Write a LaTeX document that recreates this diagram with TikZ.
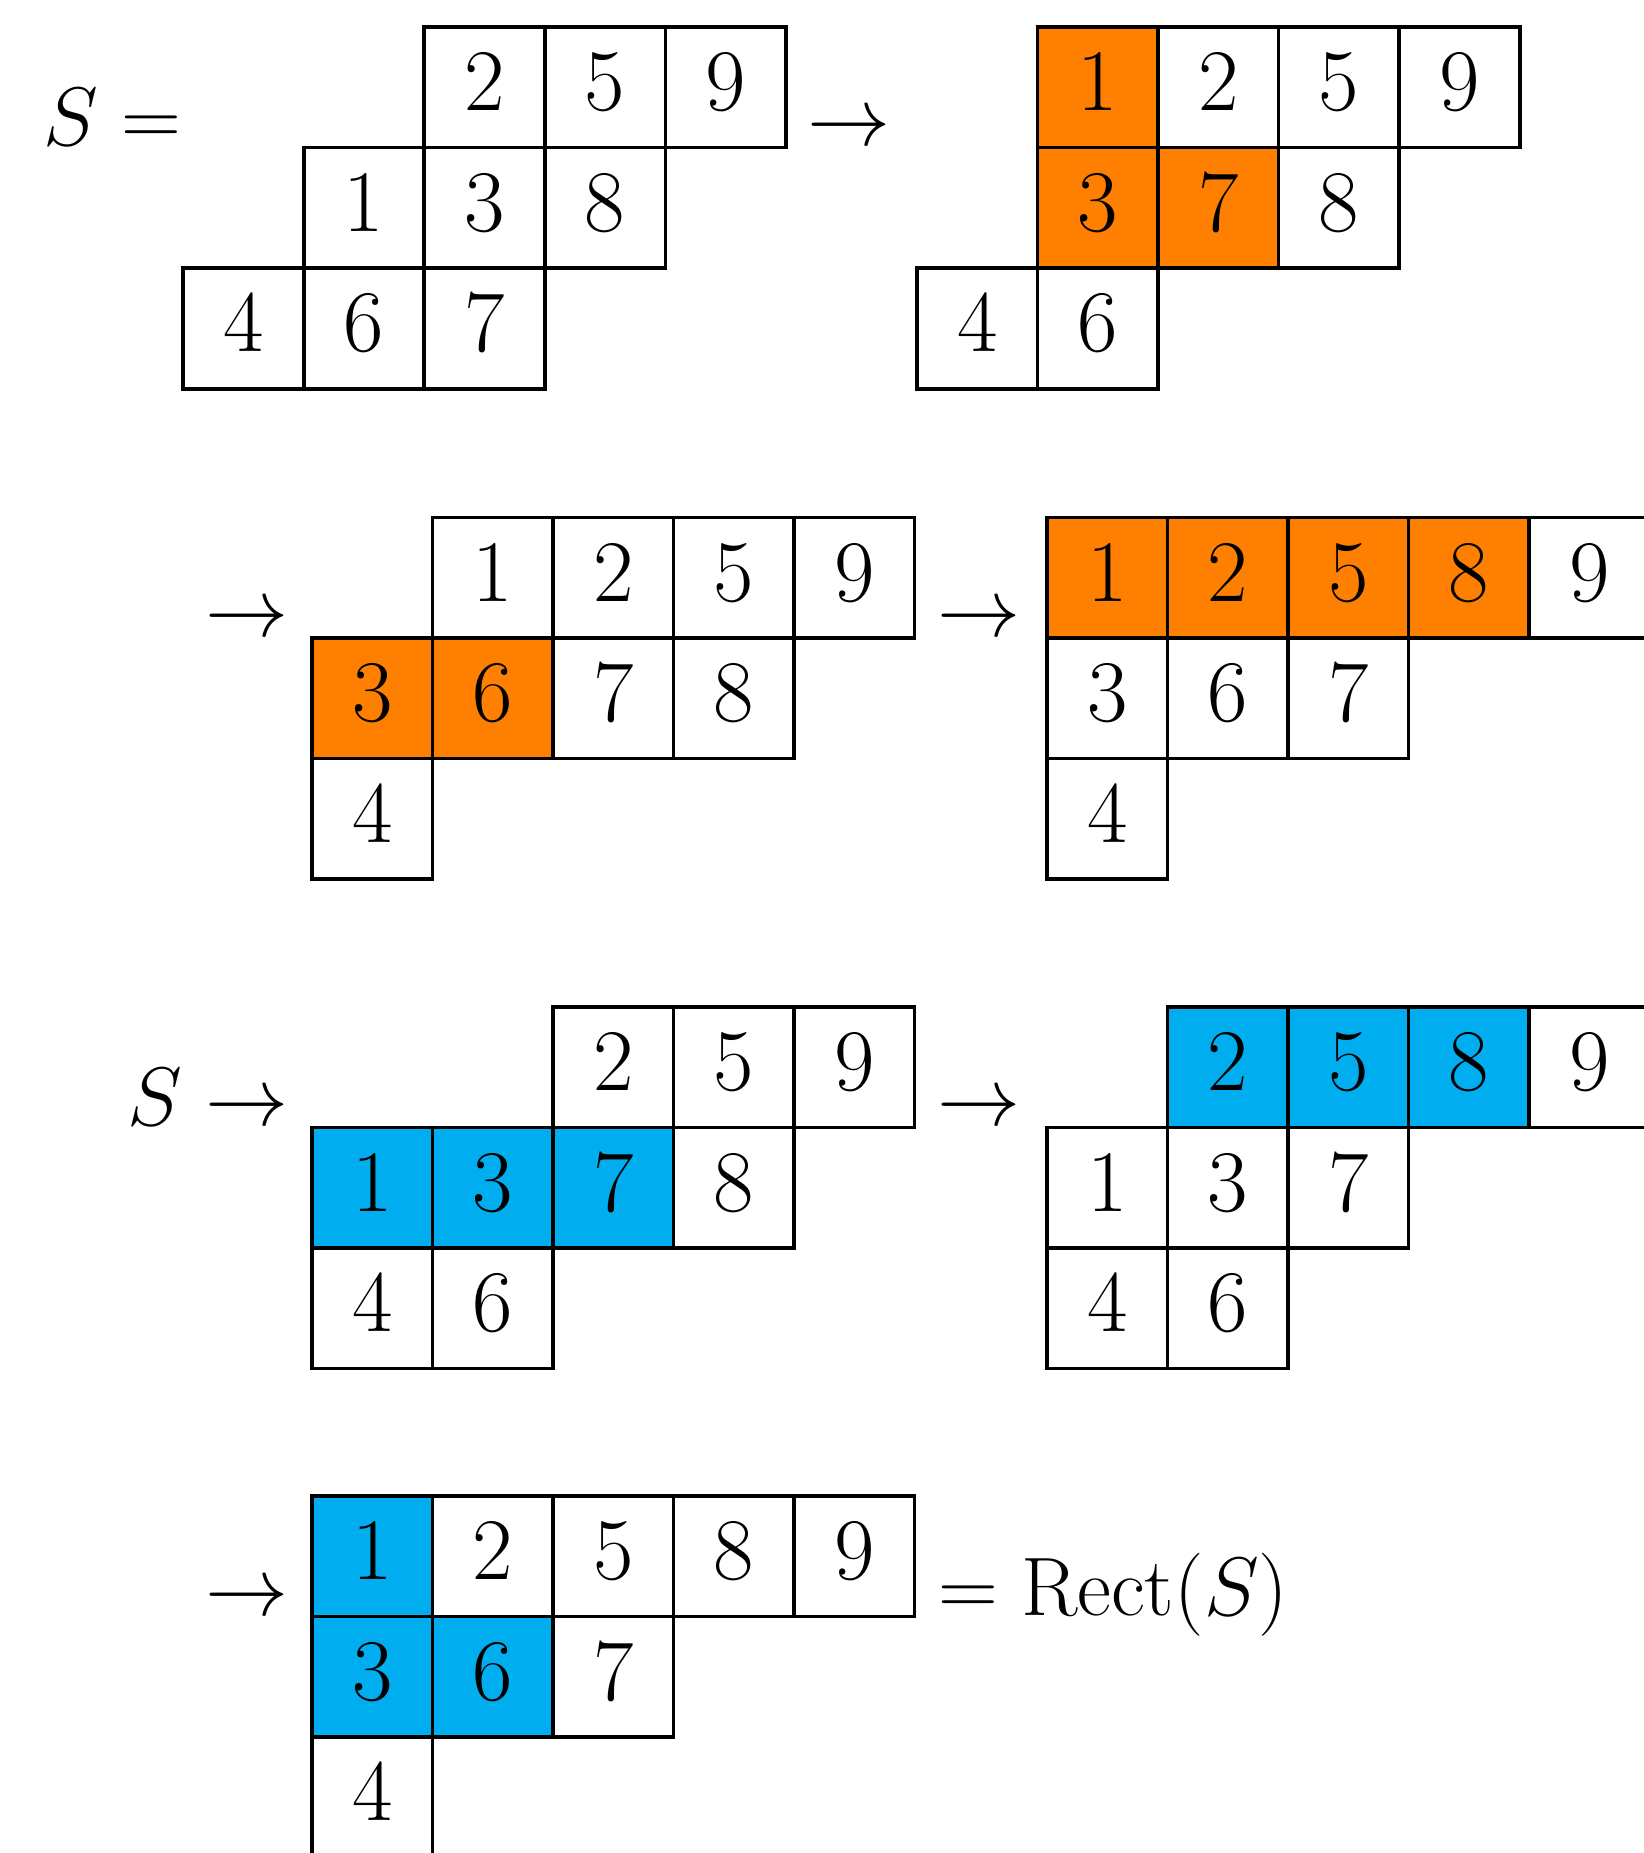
\documentclass[tikz,border=0pt]{standalone}
\usepackage{graphicx}
\definecolor{tOrange}{RGB}{255,128,0}
\definecolor{tBlue}{RGB}{0,174,239}
\newcommand{\cellrow}[4]{%
  \foreach \v/\c [count=\i from 0] in {#4} {%
    \node[cellbox, fill=\c] (#1-\i) at ({#2+\i+0.5},{-(#3)-0.5}) {\raisebox{0.04cm}[\height][\depth]{$\v$}};
  }%
}
\newcommand{\lbltext}[1]{\scalebox{0.945}{$#1$}}
\begin{document}
\begin{tikzpicture}[
  every node/.style={font=\fontsize{20.74}{25}\selectfont},
  cellbox/.style={draw=black, line width=0.85pt, minimum size=1cm, inner sep=0pt, outer sep=0pt},
  mathlbl/.style={inner sep=0pt, outer sep=0pt}
]
\useasboundingbox (0,0) rectangle (13.637,-15.373);
\clip (0,0) rectangle (13.637,-15.373);

% ---- Row 1 ----
\node[mathlbl, anchor=base] (S1) at (0.935,-1.21) {\lbltext{S=}};
% Tableau 1
\cellrow{ta1}{3.52}{0.225}{2/white,5/white,9/white}
\cellrow{tb1}{2.52}{1.225}{1/white,3/white,8/white}
\cellrow{tc1}{1.52}{2.225}{4/white,6/white,7/white}
\node[mathlbl, anchor=base east] (ar1) at (7.39,-1.21) {\lbltext{\rightarrow}};
% Tableau 2
\cellrow{ta2}{8.608}{0.225}{1/tOrange,2/white,5/white,9/white}
\cellrow{tb2}{8.608}{1.225}{3/tOrange,7/tOrange,8/white}
\cellrow{tc2}{7.608}{2.225}{4/white,6/white}

% ---- Row 2 ----
\node[mathlbl, anchor=base east] (ar2) at (2.39,-5.28) {\lbltext{\rightarrow}};
\cellrow{ta3}{3.588}{4.294}{1/white,2/white,5/white,9/white}
\cellrow{tb3}{2.588}{5.294}{3/tOrange,6/tOrange,7/white,8/white}
\cellrow{tc3}{2.588}{6.294}{4/white}
\node[mathlbl, anchor=base east] (ar3) at (8.47,-5.28) {\lbltext{\rightarrow}};
\cellrow{ta4}{8.686}{4.294}{1/tOrange,2/tOrange,5/tOrange,8/tOrange,9/white}
\cellrow{tb4}{8.686}{5.294}{3/white,6/white,7/white}
\cellrow{tc4}{8.686}{6.294}{4/white}

% ---- Row 3 ----
\node[mathlbl, anchor=base east] (ar4) at (2.39,-9.34) {\lbltext{S\rightarrow}};
\cellrow{ta5}{4.588}{8.353}{2/white,5/white,9/white}
\cellrow{tb5}{2.588}{9.353}{1/tBlue,3/tBlue,7/tBlue,8/white}
\cellrow{tc5}{2.588}{10.353}{4/white,6/white}
\node[mathlbl, anchor=base east] (ar5) at (8.47,-9.34) {\lbltext{\rightarrow}};
\cellrow{ta6}{9.686}{8.353}{2/tBlue,5/tBlue,8/tBlue,9/white}
\cellrow{tb6}{8.686}{9.353}{1/white,3/white,7/white}
\cellrow{tc6}{8.686}{10.353}{4/white,6/white}

% ---- Row 4 ----
\node[mathlbl, anchor=base east] (ar6) at (2.39,-13.40) {\lbltext{\rightarrow}};
\cellrow{ta7}{2.588}{12.41}{1/tBlue,2/white,5/white,8/white,9/white}
\cellrow{tb7}{2.588}{13.41}{3/tBlue,6/tBlue,7/white}
\cellrow{tc7}{2.588}{14.41}{4/white}
\node[mathlbl, anchor=base west] (rect) at (7.785,-13.40) {\lbltext{=\mathrm{Rect}(S)}};
\end{tikzpicture}
\end{document}
